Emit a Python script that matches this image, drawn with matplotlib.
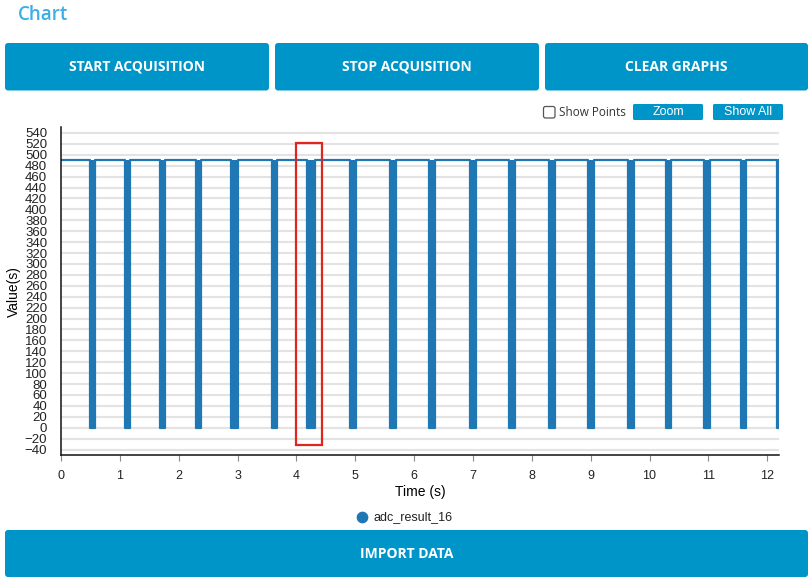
import numpy as np
from matplotlib import pyplot as plt
from matplotlib.patches import FancyBboxPatch, Rectangle

# data
pulse_centers = [0.54, 1.13, 1.73, 2.34, 2.95, 3.63, 4.25, 4.96, 5.64, 6.30,
                 7.00, 7.66, 8.35, 9.00, 9.68, 10.32, 10.97, 11.60, 12.18]
pulse_widths = [0.09, 0.09, 0.09, 0.09, 0.11, 0.08, 0.125, 0.10, 0.11, 0.11,
                0.11, 0.10, 0.10, 0.10, 0.10, 0.09, 0.10, 0.08, 0.04]
high_value = 490
low_value = 0
t_end = 12.2
series_name = 'adc_result_16'

x_ticks = list(range(0, 13))
y_ticks = list(range(-40, 541, 20))

# zoom selection box (time, value)
zoom_box = (4.0, 4.43, -32, 521)

buttons_top = ['START ACQUISITION', 'STOP ACQUISITION', 'CLEAR GRAPHS']

W, H = 812, 581
blue_btn = '#0095c9'
line_blue = '#1f77b4'

# build the line series from the pulse list
t = [0.0]
v = [high_value]
for c, w in zip(pulse_centers, pulse_widths):
    s, e = c - w / 2, min(c + w / 2, t_end)
    t += [s, s, e, e]
    v += [high_value, low_value, low_value, high_value]
if t[-1] < t_end:
    t.append(t_end)
    v.append(high_value)
t = np.array(t)
v = np.array(v)

fig = plt.figure(figsize=(W / 100, H / 100), dpi=100)

# page overlay in pixel coordinates
bg = fig.add_axes([0, 0, 1, 1], zorder=0)
bg.set_xlim(0, W)
bg.set_ylim(H, 0)
bg.axis('off')

bg.text(18, 14.5, 'Chart', color='#3aaee6', fontsize=13.5, fontfamily='Open Sans',
        fontweight='semibold', va='center', ha='left')


def button(x0, y0, x1, y1, label, size=10, family='Open Sans', weight='bold', r=3):
    bg.add_patch(FancyBboxPatch((x0, y0), x1 - x0, y1 - y0,
                                boxstyle=f'round,pad=0,rounding_size={r}',
                                facecolor=blue_btn, edgecolor='none'))
    bg.text((x0 + x1) / 2, (y0 + y1) / 2, label, color='white', fontsize=size,
            fontfamily=family, fontweight=weight, ha='center', va='center')


for (x0, x1), label in zip([(5, 269), (275, 539), (545, 808)], buttons_top):
    button(x0, 43, x1, 90.5, label)
button(5, 530, 808, 577, 'IMPORT DATA')

button(633, 104, 703, 120, 'Zoom', size=9, family='Liberation Sans', weight='normal', r=1.5)
button(713, 104, 783, 120, 'Show All', size=9, family='Liberation Sans', weight='normal', r=1.5)
bg.add_patch(FancyBboxPatch((543.5, 106.5), 11.5, 11.5, boxstyle='round,pad=0,rounding_size=2',
                            facecolor='white', edgecolor='#555555', linewidth=0.9))
bg.text(559, 112.5, 'Show Points', fontsize=8.5, fontfamily='Open Sans', color='#333333',
        ha='left', va='center')

# legend
bg.scatter([362], [517], s=55, color=line_blue)
bg.text(374, 517, series_name, fontsize=9, fontfamily='Liberation Sans', color='#222222',
        ha='left', va='center')

# main chart
ax = fig.add_axes([61 / W, 1 - 455 / H, (779 - 61) / W, (455 - 127.5) / H], zorder=1)
ax.set_xlim(0, t_end)
ax.set_ylim(-50, 550)
ax.set_yticks(y_ticks)
ax.set_xticks(x_ticks)
ax.grid(axis='y', color='#e3e3e3', linewidth=1.5)
ax.set_axisbelow(True)

ax.fill_between(t, v, high_value, color=line_blue, linewidth=0)
ax.plot(t, v, color=line_blue, linewidth=1.6)

x0, x1, y0, y1 = zoom_box
ax.add_patch(Rectangle((x0, y0), x1 - x0, y1 - y0, fill=False,
                       edgecolor='#e0251f', linewidth=1.6, zorder=5))

for side in ('top', 'right'):
    ax.spines[side].set_visible(False)
for side in ('left', 'bottom'):
    ax.spines[side].set_color('#111111')
    ax.spines[side].set_linewidth(1.1)

ax.tick_params(axis='y', length=0, pad=10, labelsize=9.5, labelcolor='#222222')
ax.tick_params(axis='x', length=4, color='#888888', pad=7, labelsize=9, labelcolor='#222222')
for lab in ax.get_xticklabels() + ax.get_yticklabels():
    lab.set_fontfamily('Liberation Sans')

ax.set_xlabel('Time (s)', fontsize=10, fontfamily='Liberation Sans', labelpad=2)
ax.set_ylabel('Value(s)', fontsize=10, fontfamily='Liberation Sans', labelpad=3)

fig.savefig('out.png', dpi=100)
